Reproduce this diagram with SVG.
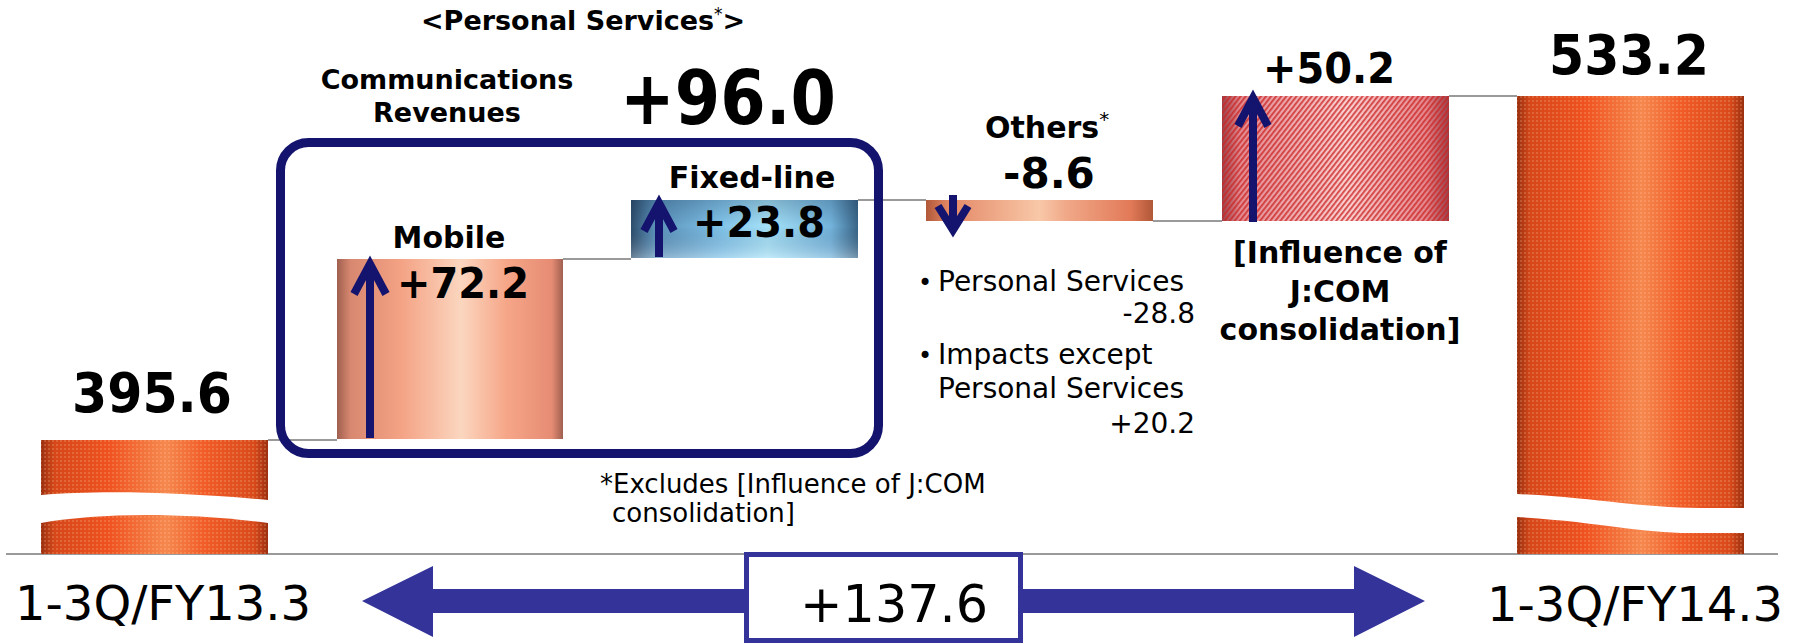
<svg xmlns="http://www.w3.org/2000/svg" width="1796" height="644" viewBox="0 0 1796 644">
<style>
  .b{font-family:"DejaVu Sans",Verdana,sans-serif;font-weight:bold;fill:#000}
  .r{font-family:"DejaVu Sans",Verdana,sans-serif;fill:#000}
  .conn{stroke:#9a9a9a;stroke-width:2;fill:none}
  .arr{stroke:#14146e;stroke-width:8;fill:none;stroke-linejoin:miter;stroke-linecap:butt}
  .big{font-size:42px}
</style>
<defs>
  <!-- cylinder shading for each bar colour -->
  <linearGradient id="gOrange" x1="0" y1="0" x2="1" y2="0">
    <stop offset="0" stop-color="#9a3010"/>
    <stop offset="0.06" stop-color="#d6471a"/>
    <stop offset="0.3" stop-color="#ef5220"/>
    <stop offset="0.55" stop-color="#f6884f"/>
    <stop offset="0.72" stop-color="#f15c28"/>
    <stop offset="0.94" stop-color="#d8491b"/>
    <stop offset="1" stop-color="#9a3010"/>
  </linearGradient>
  <linearGradient id="gPeach" x1="0" y1="0" x2="1" y2="0">
    <stop offset="0" stop-color="#a06050"/>
    <stop offset="0.06" stop-color="#d88870"/>
    <stop offset="0.28" stop-color="#f4a284"/>
    <stop offset="0.55" stop-color="#fbd6bf"/>
    <stop offset="0.75" stop-color="#f6a688"/>
    <stop offset="0.95" stop-color="#e68c74"/>
    <stop offset="1" stop-color="#a06050"/>
  </linearGradient>
  <linearGradient id="gOthers" x1="0" y1="0" x2="1" y2="0">
    <stop offset="0" stop-color="#b05838"/>
    <stop offset="0.1" stop-color="#e48866"/>
    <stop offset="0.5" stop-color="#f8c8a8"/>
    <stop offset="0.62" stop-color="#f0a888"/>
    <stop offset="0.9" stop-color="#e27a58"/>
    <stop offset="1" stop-color="#b05838"/>
  </linearGradient>
  <linearGradient id="gBlue" x1="0" y1="0" x2="1" y2="0">
    <stop offset="0" stop-color="#2e4e6c"/>
    <stop offset="0.1" stop-color="#5a90b8"/>
    <stop offset="0.4" stop-color="#82c4ea"/>
    <stop offset="0.6" stop-color="#a6e2f8"/>
    <stop offset="0.88" stop-color="#74b4dc"/>
    <stop offset="1" stop-color="#3a6688"/>
  </linearGradient>
  <linearGradient id="gBlueV" x1="0" y1="0" x2="0" y2="1">
    <stop offset="0" stop-color="#0a1e3c" stop-opacity="0.22"/>
    <stop offset="0.45" stop-color="#0a1e3c" stop-opacity="0"/>
    <stop offset="1" stop-color="#ffffff" stop-opacity="0.3"/>
  </linearGradient>
  <linearGradient id="gPink" x1="0" y1="0" x2="1" y2="0">
    <stop offset="0" stop-color="#9a4048"/>
    <stop offset="0.08" stop-color="#e28a90"/>
    <stop offset="0.55" stop-color="#fad0d0"/>
    <stop offset="0.9" stop-color="#e4878c"/>
    <stop offset="1" stop-color="#9a4048"/>
  </linearGradient>
  <pattern id="pDots" width="4" height="4" patternUnits="userSpaceOnUse">
    <rect x="0" y="0" width="2" height="2" fill="#ffd0a0" opacity="0.22"/>
  </pattern>
  <pattern id="pStripes" width="4" height="4" patternUnits="userSpaceOnUse" patternTransform="rotate(38)">
    <rect x="0" y="0" width="1.8" height="4" fill="#cc2424" opacity="0.8"/>
  </pattern>
</defs>

<rect width="1796" height="644" fill="#fff"/>

<!-- heading -->
<g id="heading">
  <text class="b" x="421" y="30" font-size="27">&lt;Personal Services<tspan font-size="17" font-weight="normal" dy="-10">*</tspan><tspan dy="10">&gt;</tspan></text>
  <text class="b" x="447" y="89" font-size="27" text-anchor="middle">Communications</text>
  <text class="b" x="447" y="122" font-size="27" text-anchor="middle">Revenues</text>
  <text class="b" x="620" y="124" font-size="74" textLength="216" lengthAdjust="spacingAndGlyphs">+96.0</text>
</g>

<!-- connectors -->
<g id="connectors">
  <line class="conn" x1="6" y1="554" x2="1778" y2="554"/>
  <line class="conn" x1="268" y1="440" x2="337" y2="440"/>
  <line class="conn" x1="563" y1="259" x2="631" y2="259"/>
  <line class="conn" x1="858" y1="200" x2="926" y2="200"/>
  <line class="conn" x1="1153" y1="221" x2="1222" y2="221"/>
  <line class="conn" x1="1449" y1="96" x2="1517" y2="96"/>
</g>

<!-- opening total -->
<g id="fy13">
  <path d="M41,440 H268 V500 C180,492 100,490 41,495 Z" fill="url(#gOrange)"/>
  <path d="M41,440 H268 V500 C180,492 100,490 41,495 Z" fill="url(#pDots)"/>
  <path d="M41,523 C100,513 180,512 268,523 V554 H41 Z" fill="url(#gOrange)"/>
  <path d="M41,523 C100,513 180,512 268,523 V554 H41 Z" fill="url(#pDots)"/>
  <text class="b" x="72" y="412" font-size="56" textLength="160" lengthAdjust="spacingAndGlyphs">395.6</text>
</g>

<!-- communications revenues frame -->
<g id="comm-frame">
  <rect x="280.5" y="142.5" width="598" height="311" rx="28" fill="none" stroke="#14146e" stroke-width="9"/>
</g>

<g id="mobile">
  <rect x="337" y="259" width="226" height="180" fill="url(#gPeach)"/>
  <path class="arr" d="M370,265 V438"/>
  <polyline class="arr" points="354,294 370,264 386,294" stroke-linecap="round"/>
  <text class="b" x="449" y="248" font-size="30" text-anchor="middle">Mobile</text>
  <text class="b big" x="397" y="298" textLength="132" lengthAdjust="spacingAndGlyphs">+72.2</text>
</g>

<g id="fixed-line">
  <rect x="631" y="200" width="227" height="58" fill="url(#gBlue)"/>
  <rect x="631" y="200" width="227" height="58" fill="url(#gBlueV)"/>
  <path class="arr" d="M659,204 V257"/>
  <polyline class="arr" points="644,231 659,203 674,231" stroke-linecap="round"/>
  <text class="b" x="752" y="188" font-size="30" text-anchor="middle">Fixed-line</text>
  <text class="b big" x="693" y="237" textLength="132" lengthAdjust="spacingAndGlyphs">+23.8</text>
</g>

<g id="others">
  <rect x="926" y="200" width="227" height="21" fill="url(#gOthers)"/>
  <path class="arr" d="M953,195 V227"/>
  <polyline class="arr" points="938,206 953,230 968,206" stroke-linecap="round"/>
  <text class="b" x="985" y="138" font-size="30">Others<tspan class="r" font-size="20" font-weight="normal" dy="-12">*</tspan></text>
  <text class="b big" x="1003" y="188">-8.6</text>
  <text class="r" x="918" y="291" font-size="24">•</text>
  <text class="r" x="938" y="291" font-size="28">Personal Services</text>
  <text class="r" x="1195" y="323" font-size="28" text-anchor="end">-28.8</text>
  <text class="r" x="918" y="364" font-size="24">•</text>
  <text class="r" x="938" y="364" font-size="28">Impacts except</text>
  <text class="r" x="938" y="398" font-size="28">Personal Services</text>
  <text class="r" x="1195" y="433" font-size="28" text-anchor="end">+20.2</text>
</g>

<g id="jcom">
  <rect x="1222" y="96" width="227" height="125" fill="url(#gPink)"/>
  <rect x="1222" y="96" width="227" height="125" fill="url(#pStripes)"/>
  <path class="arr" d="M1253,100 V222"/>
  <polyline class="arr" points="1238,126 1253,98 1268,126" stroke-linecap="round"/>
  <text class="b big" x="1263" y="83" textLength="132" lengthAdjust="spacingAndGlyphs">+50.2</text>
  <text class="b" x="1340" y="263" font-size="30" text-anchor="middle">[Influence of</text>
  <text class="b" x="1340" y="302" font-size="30" text-anchor="middle">J:COM</text>
  <text class="b" x="1340" y="340" font-size="30" text-anchor="middle">consolidation]</text>
</g>

<!-- closing total -->
<g id="fy14">
  <path d="M1517,96 H1744 V508 H1700 C1640,508 1600,498 1517,494 Z" fill="url(#gOrange)"/>
  <path d="M1517,96 H1744 V508 H1700 C1640,508 1600,498 1517,494 Z" fill="url(#pDots)"/>
  <path d="M1517,517 C1600,522 1640,533 1690,533 H1744 V554 H1517 Z" fill="url(#gOrange)"/>
  <path d="M1517,517 C1600,522 1640,533 1690,533 H1744 V554 H1517 Z" fill="url(#pDots)"/>
  <text class="b" x="1549" y="74" font-size="56" textLength="160" lengthAdjust="spacingAndGlyphs">533.2</text>
</g>

<!-- footnote -->
<g id="footnote">
  <text class="r" x="600" y="493" font-size="26">*Excludes [Influence of J:COM</text>
  <text class="r" x="612" y="522" font-size="26">consolidation]</text>
</g>

<!-- period axis and total change -->
<g id="period-axis">
  <text class="r" x="15" y="620" font-size="48">1-3Q/FY13.3</text>
  <text class="r" x="1487" y="621" font-size="48">1-3Q/FY14.3</text>
  <polygon points="362,601 433,566 433,589 746,589 746,613 433,613 433,637" fill="#333399"/>
  <polygon points="1023,589 1354,589 1354,566 1425,601 1354,637 1354,613 1023,613" fill="#333399"/>
  <rect x="746.5" y="554.5" width="274" height="86" fill="#fff" stroke="#333399" stroke-width="5"/>
  <text class="r" x="800" y="622" font-size="51" textLength="188" lengthAdjust="spacingAndGlyphs">+137.6</text>
</g>
</svg>
